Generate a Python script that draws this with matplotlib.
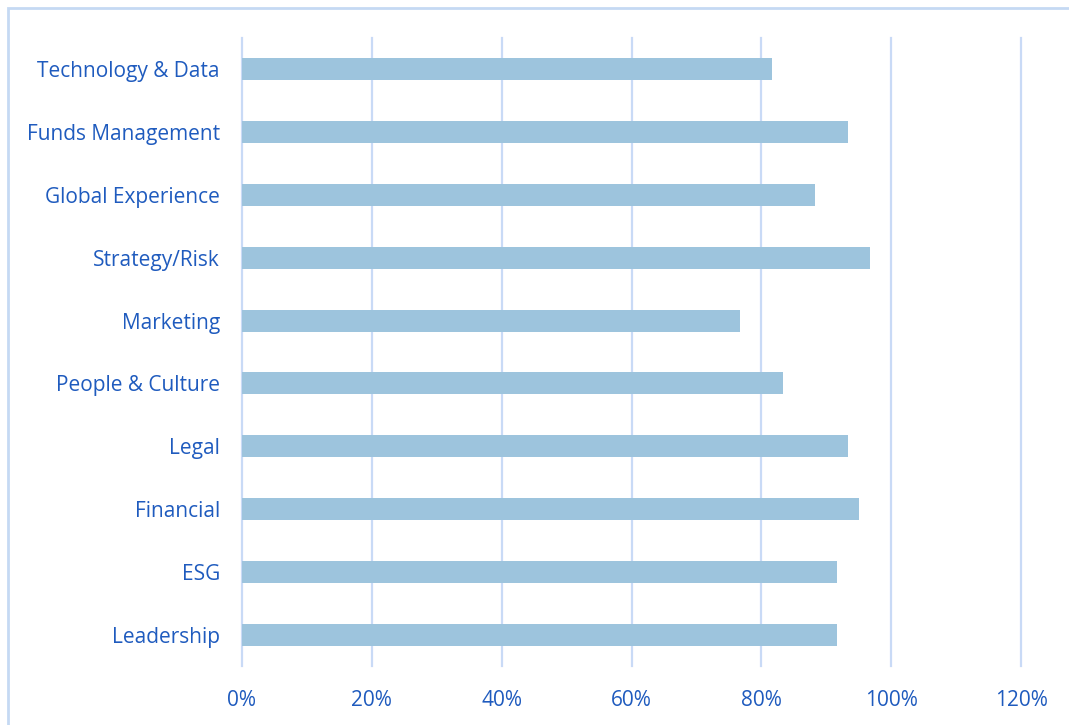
import matplotlib
matplotlib.use("Agg")
import matplotlib.pyplot as plt
from matplotlib.patches import Rectangle
from matplotlib.ticker import PercentFormatter

categories = ["Technology & Data", "Funds Management", "Global Experience",
              "Strategy/Risk", "Marketing", "People & Culture", "Legal",
              "Financial", "ESG", "Leadership"]
values = [0.817, 0.933, 0.883, 0.967, 0.767, 0.833, 0.933, 0.950, 0.917, 0.917]
xticks = [0, 0.2, 0.4, 0.6, 0.8, 1.0, 1.2]

W, H = 1069, 725
fig = plt.figure(figsize=(W / 100, H / 100), dpi=100)
plt.rcParams['font.family'] = ['Open Sans', 'DejaVu Sans']
text_color = "#1F5BBE"
grid_color = "#C9DAF6"
bar_color = "#9DC4DD"

ax = fig.add_axes([242 / W, 1 - 666 / H, (1021 - 242) / W, (666 - 38) / H])
ypos = list(range(len(categories)))[::-1]
ax.barh(ypos, values, height=0.35, color=bar_color, zorder=3)
ax.set_xlim(0, 1.2)
ax.set_ylim(-0.5, len(categories) - 0.5)
ax.set_yticks(ypos)
ax.set_yticklabels(categories)
ax.set_xticks(xticks)
ax.xaxis.set_major_formatter(PercentFormatter(1.0, decimals=0))
ax.grid(axis='x', color=grid_color, linewidth=1.6, zorder=0)
for gl in ax.get_xgridlines():
    gl.set_clip_on(False)
for s in ax.spines.values():
    s.set_visible(False)
ax.tick_params(axis='both', length=0, labelsize=15, labelcolor=text_color)
ax.tick_params(axis='y', pad=16)
ax.tick_params(axis='x', pad=17)

# figure border (top and left visible)
fig.patches.append(Rectangle((8 / W, -0.1), 1.2, 1 - 8 / H + 0.1, transform=fig.transFigure,
                             fill=False, edgecolor="#C5D9F3", linewidth=2, zorder=0))

fig.savefig("out.png", dpi=100)
